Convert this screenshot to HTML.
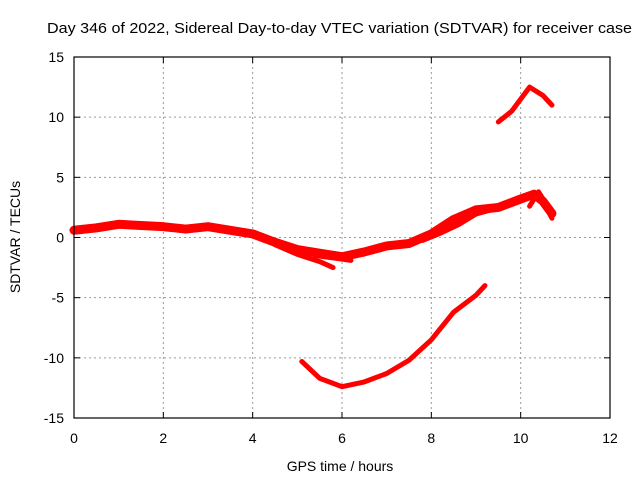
<!DOCTYPE html>
<html><head><meta charset="utf-8"><style>
body{margin:0;background:#fff}
svg text{font-family:"Liberation Sans",sans-serif;font-size:14px;fill:#000}
</style></head><body>
<svg id="chart" width="640" height="480">
<text x="47" y="33" textLength="585" lengthAdjust="spacingAndGlyphs" style="font-size:15px">Day 346 of 2022, Sidereal Day-to-day VTEC variation (SDTVAR) for receiver case</text>
<g id="grid"></g><g id="series"></g>
<rect x="74" y="57" width="536" height="361" fill="none" stroke="#000" stroke-width="1.2"/>
<g id="axes"></g>
<text x="340" y="471" text-anchor="middle">GPS time / hours</text>
<text x="20" y="237" text-anchor="middle" transform="rotate(-90 20 237)">SDTVAR / TECUs</text>
</svg>
<script>
const xTicks=[0,2,4,6,8,10,12];
const yTicks=[-15,-10,-5,0,5,10,15];
const bandHours=[0,0.5,1,1.5,2,2.5,3,3.5,4,4.5,5,5.5,6,6.5,7,7.5,8,8.5,9,9.5,10,10.3,10.5,10.7];
const bandValues=[0.6,0.8,1.1,1.0,0.9,0.7,0.9,0.6,0.3,-0.4,-1.0,-1.3,-1.6,-1.2,-0.7,-0.5,0.3,1.5,2.3,2.5,3.2,3.6,3.0,2.0];
const branchHours=[4.5,5,5.5,5.8];
const branchValues=[-0.6,-1.4,-2.0,-2.5];
const branch2Hours=[5.4,5.8,6.2];
const branch2Values=[-1.5,-1.7,-1.9];
const branch3Hours=[7.8,8.2,8.6,9,9.4];
const branch3Values=[-0.2,0.4,1.1,2.0,2.4];
const branch4Hours=[10.2,10.4,10.5,10.6,10.7];
const branch4Values=[2.6,3.8,3.2,2.3,1.6];
const lowHours=[5.1,5.5,6,6.5,7,7.5,8,8.5,9,9.2];
const lowValues=[-10.3,-11.7,-12.4,-12.0,-11.3,-10.2,-8.5,-6.2,-4.8,-4.0];
const highHours=[9.5,9.8,10.2,10.5,10.7];
const highValues=[9.6,10.5,12.5,11.8,11.0];
const X=h=>74+h*536/12, Y=v=>237.5-v*361/30;
const NS="http://www.w3.org/2000/svg";
const grid=document.getElementById('grid'),axes=document.getElementById('axes'),ser=document.getElementById('series');
function mk(t,a,p){const e=document.createElementNS(NS,t);for(const k in a)e.setAttribute(k,a[k]);p.appendChild(e);return e;}
xTicks.forEach(t=>{
 if(t>0&&t<12){const g=mk('line',{x1:X(t),x2:X(t),y1:57,y2:418,stroke:'#999','stroke-dasharray':'2,3'},grid);
 
 }
 mk('line',{x1:X(t),x2:X(t),y1:418,y2:412,stroke:'#000'},axes);
 mk('line',{x1:X(t),x2:X(t),y1:57,y2:63,stroke:'#000'},axes);
 const l=mk('text',{x:X(t),y:443,'text-anchor':'middle'},axes);l.textContent=t;
 
 
});
yTicks.forEach(t=>{
 if(t>-15&&t<15){const g=mk('line',{x1:74,x2:610,y1:Y(t),y2:Y(t),stroke:'#999','stroke-dasharray':'2,3'},grid);
 
 }
 mk('line',{x1:74,x2:80,y1:Y(t),y2:Y(t),stroke:'#000'},axes);
 mk('line',{x1:604,x2:610,y1:Y(t),y2:Y(t),stroke:'#000'},axes);
 const l=mk('text',{x:64,y:Y(t)+5,'text-anchor':'end'},axes);l.textContent=t;
 
 
});
function line(hs,vs,w,name){
 const p=mk('polyline',{points:hs.map((h,i)=>X(h)+','+Y(vs[i])).join(' '),fill:'none',stroke:'#f00','stroke-width':w,'stroke-linejoin':'round','stroke-linecap':'round'},ser);
 
 
}
line(bandHours,bandValues,9,'sdtvar-main-band');
line(branchHours,branchValues,5,'sdtvar-branch');
line(branch2Hours,branch2Values,5,'sdtvar-branch-2');
line(branch3Hours,branch3Values,6,'sdtvar-branch-3');
line(branch4Hours,branch4Values,5,'sdtvar-branch-4');
line(lowHours,lowValues,5,'sdtvar-low-arc');
line(highHours,highValues,5,'sdtvar-high-arc');
</script>
</body></html>
